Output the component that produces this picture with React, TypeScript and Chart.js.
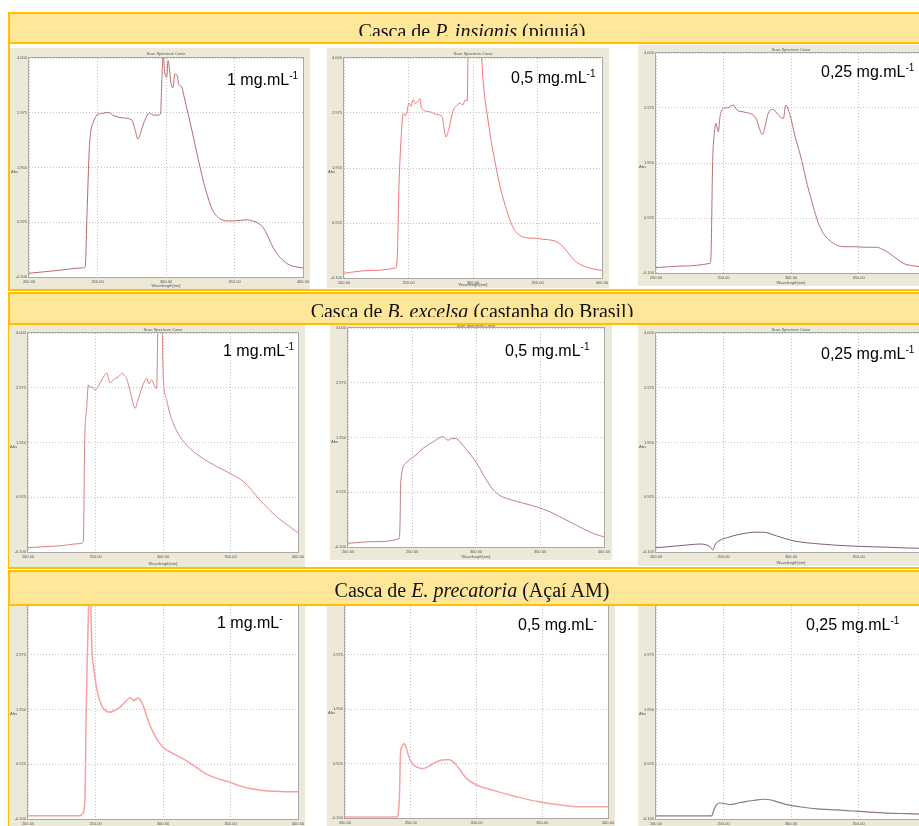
import React, { useEffect, useRef } from "react";
import { Chart, registerables } from "chart.js";

Chart.register(...registerables);
Chart.defaults.font.family = "'Liberation Sans', Arial, sans-serif";

// ---- axis ticks ----
const yTickValues = [-0.1, 0.925, 1.95, 2.975, 4.0];
const yTickLabels = ["-0.100", "0.925", "1.950", "2.975", "4.000"];
const xTickValues = [200, 250, 300, 350, 400];
const xTickLabels = ["200.00", "250.00", "300.00", "350.00", "400.00"];

// ---- P. insignis ----
const wlP1 = [200, 220, 239, 241, 242.5, 244, 245, 247, 249.5, 253, 258, 262, 268, 275, 277.5, 279.5, 281.5, 284, 288, 291, 294, 296, 297, 298, 299, 300.5, 301.5, 302.5, 303.5, 305, 306.5, 308, 309.5, 311.5, 313, 315, 318, 321, 324, 327, 330.5, 334, 337.5, 341, 345, 349, 354, 359, 363, 367, 371, 374, 378, 381.5, 385, 389, 393, 400];
const absP1 = [-0.03, 0.02, 0.07, 0.09, 1.2, 2.3, 2.61, 2.8, 2.93, 2.96, 2.98, 2.92, 2.88, 2.84, 2.65, 2.48, 2.6, 2.8, 2.97, 2.93, 2.93, 2.95, 3.6, 4.05, 3.75, 3.64, 3.95, 3.8, 3.55, 3.44, 3.7, 3.68, 3.5, 3.46, 3.3, 3.08, 2.75, 2.4, 2.05, 1.72, 1.4, 1.15, 1.03, 0.97, 0.95, 0.95, 0.96, 0.97, 0.95, 0.91, 0.82, 0.68, 0.46, 0.32, 0.22, 0.14, 0.1, 0.07];

const wlP2 = [200, 220, 240, 241.3, 242.6, 244.5, 246, 247.5, 248.5, 250.4, 252, 253.5, 255.5, 257.5, 259, 260, 266, 273, 276, 277.5, 279, 281, 284.7, 287, 289.9, 292, 294, 295.5, 296.4, 305.5, 306.7, 308, 311, 314.4, 318, 321, 325, 328.7, 332, 336, 341, 349, 355, 362, 366, 370, 375, 380, 385, 391, 400];
const absP2 = [-0.01, 0.04, 0.09, 0.3, 1.6, 2.6, 2.97, 2.92, 2.97, 3.16, 3.1, 3.22, 3.15, 3.2, 3.24, 3.07, 3.0, 2.94, 2.91, 2.7, 2.53, 2.65, 3.03, 3.1, 3.16, 3.12, 3.22, 3.2, 4.4, 4.4, 4.0, 3.53, 2.95, 2.41, 1.95, 1.6, 1.25, 0.98, 0.8, 0.7, 0.65, 0.64, 0.62, 0.6, 0.56, 0.48, 0.33, 0.2, 0.13, 0.08, 0.04];

const wlP3 = [200, 220, 240, 240.7, 242, 243, 244.4, 245.3, 246.2, 247.4, 249.9, 253, 257.3, 259.8, 265, 272, 274.6, 276.5, 278.8, 280.5, 283.2, 287, 290, 294.4, 296, 299.3, 303, 307.9, 312, 316.5, 320, 323.9, 328, 333.8, 340, 346, 355, 363.5, 367, 370.9, 377, 383.2, 389, 394.8, 400];
const absP3 = [0.0, 0.03, 0.08, 0.2, 2.0, 2.45, 2.69, 2.6, 2.53, 2.81, 2.97, 2.98, 3.03, 2.94, 2.9, 2.84, 2.75, 2.6, 2.48, 2.6, 2.88, 2.95, 2.86, 2.78, 3.03, 2.84, 2.45, 2.0, 1.55, 1.14, 0.85, 0.64, 0.52, 0.42, 0.39, 0.39, 0.38, 0.38, 0.35, 0.3, 0.19, 0.08, 0.04, 0.02, 0.01];

// ---- B. excelsa ----
const wlB1 = [200, 220, 239.8, 241, 242, 243.5, 244.7, 246, 247.2, 249.6, 252, 254.6, 256.5, 258.3, 260.7, 262.5, 264.4, 267, 270, 271.5, 273, 276, 279.3, 281, 283, 285.5, 287.9, 289.5, 291.6, 293.5, 295.3, 296.5, 299, 300.2, 302.7, 305, 307.6, 312.6, 317.5, 327.4, 339.8, 352, 359.5, 366, 371.8, 378, 384.2, 392, 399, 400];
const absB1 = [-0.02, 0.01, 0.06, 0.1, 1.96, 2.6, 3.03, 2.98, 3.0, 2.93, 3.0, 3.12, 3.2, 3.25, 3.07, 3.1, 3.15, 3.18, 3.25, 3.2, 3.15, 2.87, 2.59, 2.7, 2.87, 3.05, 3.15, 3.05, 3.12, 3.02, 2.96, 4.4, 4.4, 3.18, 2.75, 2.5, 2.31, 2.06, 1.9, 1.69, 1.5, 1.34, 1.22, 1.05, 0.87, 0.71, 0.56, 0.41, 0.28, 0.27];

const wlB2 = [200, 220, 240.1, 240.6, 241.2, 245.3, 248.4, 253, 258.8, 266.6, 271, 273.9, 276, 278.3, 281, 284.8, 288, 292.7, 300.5, 307, 313.5, 319, 326.6, 337, 347.4, 357.8, 365, 373.4, 383.9, 392, 400];
const absB2 = [-0.03, 0.0, 0.06, 0.3, 1.12, 1.47, 1.54, 1.62, 1.75, 1.87, 1.94, 1.97, 1.93, 1.9, 1.93, 1.93, 1.85, 1.72, 1.47, 1.2, 0.97, 0.86, 0.79, 0.72, 0.65, 0.56, 0.47, 0.37, 0.24, 0.15, 0.09];

const wlB3 = [200, 222.7, 232.6, 237.5, 240, 242, 244, 247.4, 253, 259.8, 266, 272, 279.5, 289.4, 301.7, 321.5, 346.2, 370.9, 394.8, 400];
const absB3 = [-0.02, 0.03, 0.05, 0.03, 0.0, -0.06, 0.05, 0.12, 0.17, 0.22, 0.25, 0.27, 0.27, 0.2, 0.11, 0.05, 0.01, -0.01, -0.03, -0.03];

// ---- E. precatoria ----
const wlE1 = [200, 220, 238.5, 240.5, 242.2, 243, 243.9, 244.8, 245.5, 246.2, 246.8, 247.5, 248.5, 250.9, 254.6, 257.5, 260.7, 264, 268.1, 272, 275.5, 278.5, 281.7, 283.5, 285.4, 288, 290.4, 295.3, 300.2, 308, 317.5, 325, 332.3, 340, 349.6, 357, 364.4, 372, 381.7, 390, 400];
const absE1 = [-0.04, -0.04, -0.04, 0.0, 0.25, 1.75, 2.88, 3.8, 4.4, 4.4, 3.6, 3.0, 2.77, 2.34, 2.02, 1.93, 1.9, 1.93, 1.99, 2.09, 2.17, 2.12, 2.17, 2.12, 2.02, 1.82, 1.65, 1.4, 1.24, 1.12, 0.99, 0.86, 0.74, 0.66, 0.59, 0.52, 0.47, 0.44, 0.42, 0.41, 0.41];

const wlE2 = [200, 220, 239.8, 240.6, 241.3, 242.3, 243.5, 245.1, 247, 249.4, 252, 254.5, 259.5, 264, 269.7, 274, 278.5, 282, 284.9, 289, 292.5, 300.1, 312.8, 330.6, 348.3, 366, 376.2, 400];
const absE2 = [-0.08, -0.08, -0.08, 0.0, 0.24, 1.15, 1.25, 1.3, 1.18, 0.99, 0.9, 0.86, 0.83, 0.88, 0.96, 0.99, 1.0, 0.96, 0.89, 0.75, 0.64, 0.52, 0.42, 0.3, 0.2, 0.14, 0.11, 0.11];

const wlE3 = [200, 220, 241.2, 243, 244.9, 247.4, 254.8, 261, 267.2, 273, 279.5, 284.4, 290, 296.8, 309.1, 320, 333.8, 346, 358.5, 372, 385.7, 400];
const absE3 = [-0.04, -0.04, -0.04, 0.08, 0.17, 0.2, 0.17, 0.2, 0.23, 0.25, 0.27, 0.26, 0.22, 0.17, 0.12, 0.09, 0.07, 0.05, 0.03, 0.01, 0.0, -0.01];

type Box = { x: number; y: number; w: number; h: number };
type Plot = { l: number; t: number; r: number; b: number };

const M = 14;

function SpectrumPanel(props: {
  wl: number[];
  abs: number[];
  color: string;
  lineWidth: number;
  box: Box;
  plot: Plot;
}) {
  const { wl, abs, color, lineWidth, box, plot } = props;
  const ref = useRef<HTMLCanvasElement>(null);
  useEffect(() => {
    const decor = {
      id: "panelDecor",
      beforeDraw(chart: any) {
        const ctx = chart.ctx;
        const a = chart.chartArea;
        ctx.save();
        ctx.fillStyle = "#ECE9D8";
        ctx.fillRect(M, M, box.w, box.h);
        ctx.fillStyle = "#ffffff";
        ctx.fillRect(a.left, a.top, a.right - a.left, a.bottom - a.top);
        ctx.fillStyle = "#555";
        ctx.font = "4px 'Liberation Sans', Arial, sans-serif";
        ctx.textAlign = "center";
        ctx.textBaseline = "middle";
        ctx.fillText("Scan Spectrum Curve", (a.left + a.right) / 2, (M + a.top) / 2 + 1);
        ctx.fillText("Wavelength[nm]", (a.left + a.right) / 2, M + box.h - 3);
        ctx.textAlign = "left";
        ctx.fillText("Abs", M + 1, (a.top + a.bottom) / 2 + 4);
        ctx.restore();
      },
      afterDraw(chart: any) {
        const ctx = chart.ctx;
        const a = chart.chartArea;
        ctx.save();
        ctx.strokeStyle = "#a8a8a8";
        ctx.lineWidth = 1;
        ctx.strokeRect(a.left - 0.5, a.top - 0.5, a.right - a.left + 1, a.bottom - a.top + 1);
        ctx.restore();
      },
    };
    const chart = new Chart(ref.current as HTMLCanvasElement, {
      type: "line",
      data: {
        datasets: [
          {
            data: wl.map((x, i) => ({ x, y: abs[i] })),
            borderColor: color,
            borderWidth: lineWidth,
            pointRadius: 0,
            fill: false,
            cubicInterpolationMode: "monotone",
          },
        ],
      },
      options: {
        animation: false,
        responsive: false,
        events: [],
        layout: {
          padding: {
            left: M,
            top: M + (plot.t - box.y),
            right: M + (box.x + box.w - plot.r),
            bottom: M,
          },
        },
        plugins: {
          legend: { display: false },
          title: { display: false },
          tooltip: { enabled: false },
        },
        scales: {
          x: {
            type: "linear",
            min: 200,
            max: 400,
            afterBuildTicks: (s: any) => {
              s.ticks = xTickValues.map((v) => ({ value: v }));
            },
            afterFit: (s: any) => {
              s.height = box.y + box.h - plot.b;
            },
            ticks: {
              font: { size: 4 },
              color: "#555",
              padding: 2,
              maxRotation: 0,
              autoSkip: false,
              callback: (_v: any, i: number) => xTickLabels[i],
            },
            grid: { color: "#c4c4c4", lineWidth: 1, drawTicks: false },
            border: { display: false, dash: [1, 2] },
          },
          y: {
            type: "linear",
            min: -0.1,
            max: 4.0,
            afterBuildTicks: (s: any) => {
              s.ticks = yTickValues.map((v) => ({ value: v }));
            },
            afterFit: (s: any) => {
              s.width = plot.l - box.x;
            },
            ticks: {
              font: { size: 4 },
              color: "#555",
              padding: 2,
              autoSkip: false,
              callback: (_v: any, i: number) => yTickLabels[i],
            },
            grid: { color: "#c4c4c4", lineWidth: 1, drawTicks: false },
            border: { display: false, dash: [1, 2] },
          },
        },
      } as any,
      plugins: [decor],
    });
    return () => chart.destroy();
  }, []);
  const W = box.w + 2 * M;
  const H = box.h + 2 * M;
  return (
    <canvas
      ref={ref}
      width={W}
      height={H}
      style={{ position: "absolute", left: box.x - M, top: box.y - M, width: W, height: H, zIndex: 1 }}
    />
  );
}

function RowHeader(props: {
  top: number;
  bottom: number;
  barBottom: number;
  baseline: number;
  clip: number;
  species: string;
  common: string;
}) {
  const { top, bottom, barBottom, baseline, clip, species, common } = props;
  const textTop = baseline - 16.75;
  return (
    <>
      <div
        style={{
          position: "absolute",
          left: 8,
          top,
          width: 960,
          height: bottom - top,
          boxSizing: "border-box",
          borderLeft: "2px solid #FFC000",
          borderTop: "2px solid #FFC000",
          borderBottom: "2px solid #FFC000",
          zIndex: 0,
        }}
      />
      <div
        style={{
          position: "absolute",
          left: 8,
          top,
          width: 960,
          height: barBottom - top,
          boxSizing: "border-box",
          background: "#FFE699",
          borderTop: "2px solid #FFC000",
          borderLeft: "2px solid #FFC000",
          borderBottom: "2px solid #FFC000",
          zIndex: 2,
        }}
      />
      <div
        style={{
          position: "absolute",
          left: 0,
          top,
          width: 944,
          height: clip - top,
          overflow: "hidden",
          zIndex: 3,
        }}
      >
        <div
          style={{
            position: "absolute",
            left: 0,
            top: textTop - top,
            width: 944,
            textAlign: "center",
            fontFamily: "'Liberation Serif', 'Times New Roman', serif",
            fontSize: 20,
            lineHeight: "20px",
            color: "#111",
            whiteSpace: "nowrap",
          }}
        >
          Casca de <i>{species}</i> ({common})
        </div>
      </div>
    </>
  );
}

function ConcLabel(props: { x: number; baseline: number; text: string; sup: string }) {
  return (
    <div
      style={{
        position: "absolute",
        left: props.x,
        top: props.baseline - 13.5,
        fontFamily: "'Liberation Sans', Arial, sans-serif",
        fontSize: 16,
        lineHeight: "16px",
        color: "#000",
        whiteSpace: "nowrap",
        zIndex: 4,
      }}
    >
      {props.text}
      <span style={{ fontSize: 10, position: "relative", top: -6 }}>{props.sup}</span>
    </div>
  );
}

const panels = [
  { wl: wlP1, abs: absP1, color: "#B86A6A", lw: 1, box: { x: 10, y: 48, w: 300, h: 241 }, plot: { l: 29, t: 58, r: 303, b: 277 } },
  { wl: wlP2, abs: absP2, color: "#F07878", lw: 1, box: { x: 327, y: 48, w: 282, h: 240 }, plot: { l: 344, t: 58, r: 602, b: 278 } },
  { wl: wlP3, abs: absP3, color: "#B87272", lw: 1, box: { x: 638, y: 45, w: 296, h: 241 }, plot: { l: 656, t: 53, r: 926, b: 273 } },
  { wl: wlB1, abs: absB1, color: "#D88484", lw: 1, box: { x: 9, y: 325, w: 296, h: 242 }, plot: { l: 28, t: 333, r: 298, b: 552 } },
  { wl: wlB2, abs: absB2, color: "#C08080", lw: 1, box: { x: 330, y: 322, w: 282, h: 238 }, plot: { l: 348, t: 328, r: 604, b: 547 } },
  { wl: wlB3, abs: absB3, color: "#806070", lw: 1, box: { x: 638, y: 325, w: 296, h: 241 }, plot: { l: 656, t: 333, r: 926, b: 552 } },
  { wl: wlE1, abs: absE1, color: "#F8A0A0", lw: 1.5, box: { x: 9, y: 590, w: 296, h: 242 }, plot: { l: 28, t: 600, r: 298, b: 819 } },
  { wl: wlE2, abs: absE2, color: "#F6A4A4", lw: 1.5, box: { x: 327, y: 590, w: 288, h: 241 }, plot: { l: 345, t: 600, r: 608, b: 818 } },
  { wl: wlE3, abs: absE3, color: "#907880", lw: 1.2, box: { x: 638, y: 590, w: 296, h: 242 }, plot: { l: 656, t: 600, r: 926, b: 819 } },
];

const labels = [
  { x: 227, baseline: 85, text: "1 mg.mL", sup: "-1" },
  { x: 511, baseline: 83, text: "0,5 mg.mL", sup: "-1" },
  { x: 821, baseline: 77, text: "0,25 mg.mL", sup: "-1" },
  { x: 223, baseline: 356, text: "1 mg.mL", sup: "-1" },
  { x: 505, baseline: 356, text: "0,5 mg.mL", sup: "-1" },
  { x: 821, baseline: 359, text: "0,25 mg.mL", sup: "-1" },
  { x: 217, baseline: 628, text: "1 mg.mL", sup: "-" },
  { x: 518, baseline: 630, text: "0,5 mg.mL", sup: "-" },
  { x: 806, baseline: 630, text: "0,25 mg.mL", sup: "-1" },
];

export default function App() {
  return (
    <div
      style={{
        position: "fixed",
        left: 0,
        top: 0,
        width: 919,
        height: 826,
        overflow: "hidden",
        background: "#ffffff",
      }}
    >
      <RowHeader top={12} bottom={291} barBottom={44} baseline={38} clip={36} species="P. insignis" common="piquiá" />
      <RowHeader top={292} bottom={569} barBottom={325} baseline={318} clip={317} species="B. excelsa" common="castanha do Brasil" />
      <RowHeader top={570} bottom={900} barBottom={606} baseline={597} clip={606} species="E. precatoria" common="Açaí AM" />
      {panels.map((p, i) => (
        <SpectrumPanel key={i} wl={p.wl} abs={p.abs} color={p.color} lineWidth={p.lw} box={p.box} plot={p.plot} />
      ))}
      {labels.map((l, i) => (
        <ConcLabel key={i} x={l.x} baseline={l.baseline} text={l.text} sup={l.sup} />
      ))}
    </div>
  );
}
